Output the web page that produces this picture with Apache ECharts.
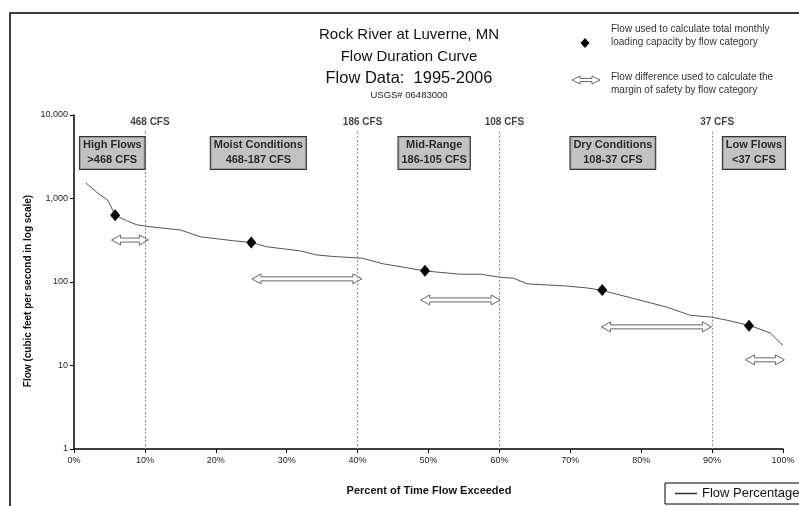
<!DOCTYPE html>
<html>
<head>
<meta charset="utf-8">
<script src="https://cdn.jsdelivr.net/npm/echarts@6/dist/echarts.min.js"></script>
<style>
html,body{margin:0;padding:0;background:#fff;}
#chart{width:799px;height:506px;}
</style>
</head>
<body>
<div id="chart"></div>
<script>
// ---- data ----
const percentExceeded = [1.7, 3.2, 4.8, 5.8, 7.4, 8.8, 10.2, 15, 17.8, 22.5, 25, 27.2, 31.9, 34.2, 36.6, 40.6, 43.6, 46, 49.4, 54.4, 57.3, 60.1, 62, 63.9, 69.5, 72.3, 74.3, 78.9, 83.6, 86.9, 89.9, 92, 95.4, 98.2, 100];
const flowCfs = [1530, 1190, 946, 630, 543, 486, 464, 420, 348, 312, 297, 264, 236, 211, 202, 193, 165, 153, 136, 124, 124, 114, 111, 95, 89.5, 85, 80, 63.5, 50, 40, 38, 35, 30, 24.5, 17.4];

const loadPercent = [5.8, 25, 49.5, 74.5, 95.2];
const loadFlow = [630, 297, 136, 80, 30];

const marginStart = [5.3, 25.1, 48.9, 74.4, 94.7];
const marginEnd = [10.5, 40.6, 60.1, 89.9, 100.2];
const marginFlow = [318, 109, 61, 29, 11.7];

const boundaryPercent = [10, 40, 60, 90];
const boundaryLabels = ['468 CFS', '186 CFS', '108 CFS', '37 CFS'];

const categoryNames = ['High Flows', 'Moist Conditions', 'Mid-Range', 'Dry Conditions', 'Low Flows'];
const categoryRanges = ['>468 CFS', '468-187 CFS', '186-105 CFS', '108-37 CFS', '<37 CFS'];
const categoryCenter = [5.4, 26.0, 50.8, 76.0, 95.9];

const xTicks = [0, 10, 20, 30, 40, 50, 60, 70, 80, 90, 100];
const yTicks = [1, 10, 100, 1000, 10000];

const titleLines = ['Rock River at Luverne, MN', 'Flow Duration Curve', 'Flow Data:  1995-2006', 'USGS# 06483000'];
const legendNotes = ['Flow used to calculate total monthly', 'loading capacity by flow category', 'Flow difference used to calculate the', 'margin of safety by flow category'];

// ---- chart ----
const chart = echarts.init(document.getElementById('chart'), null, {renderer: 'canvas'});
const FONT = 'Liberation Sans, Arial, sans-serif';
const BOX_Y = 3510;      // vertical placement of category boxes (value on log axis)
const LABEL_Y = 8300;    // vertical placement of boundary labels
const LINE_TOP = 6300;   // where the dotted boundary lines start

function arrowShape(x1, x2, y, headLen, headHalf, shaftHalf) {
  return [
    [x1, y], [x1 + headLen, y - headHalf], [x1 + headLen, y - shaftHalf],
    [x2 - headLen, y - shaftHalf], [x2 - headLen, y - headHalf], [x2, y],
    [x2 - headLen, y + headHalf], [x2 - headLen, y + shaftHalf],
    [x1 + headLen, y + shaftHalf], [x1 + headLen, y + headHalf]
  ];
}

const option = {
  backgroundColor: '#fff',
  animation: false,
  textStyle: {fontFamily: FONT},
  grid: {left: 74, right: 16, top: 115, bottom: 57, containLabel: false},
  xAxis: {
    type: 'value', min: 0, max: 100, interval: 10,
    axisLine: {show: true, lineStyle: {color: '#000', width: 1.5}},
    axisTick: {show: true, length: 4, lineStyle: {color: '#000'}},
    axisLabel: {formatter: v => xTicks.includes(v) ? v + '%' : '', fontSize: 9, color: '#222', margin: 7, fontFamily: FONT},
    splitLine: {show: false}
  },
  yAxis: {
    type: 'log', logBase: 10, min: yTicks[0], max: yTicks[yTicks.length - 1],
    axisLine: {show: true, lineStyle: {color: '#000', width: 1.5}},
    axisTick: {show: true, length: 4, lineStyle: {color: '#000'}},
    axisLabel: {formatter: v => Number(v).toLocaleString('en-US'), fontSize: 9, color: '#222', margin: 6, fontFamily: FONT},
    splitLine: {show: false}
  },
  legend: {
    left: 665, top: 483, orient: 'horizontal',
    data: [{name: 'Flow Percentage', icon: 'rect', itemStyle: {color: '#333'}}],
    borderColor: '#000', borderWidth: 1, padding: [4, 4, 4, 10],
    itemWidth: 22, itemHeight: 1.5, itemGap: 4,
    textStyle: {fontSize: 13, color: '#111', fontFamily: FONT}
  },
  series: [
    {
      name: 'Flow Percentage', type: 'line', symbol: 'none', z: 3,
      data: percentExceeded.map((p, i) => [p, flowCfs[i]]),
      lineStyle: {color: '#555', width: 1},
      itemStyle: {color: '#555'},
      markLine: {
        silent: true, symbol: 'none',
        lineStyle: {color: '#888', type: [2, 2], width: 1},
        label: {show: false},
        data: boundaryPercent.map(b => [{coord: [b, LINE_TOP]}, {coord: [b, yTicks[0]]}])
      }
    },
    {
      name: 'Load Flow', type: 'scatter', symbol: 'diamond', symbolSize: [10, 12], z: 5,
      itemStyle: {color: '#000', opacity: 1},
      data: loadPercent.map((p, i) => [p, loadFlow[i]])
    },
    {
      name: 'Margin', type: 'custom', z: 4,
      encode: {x: [0, 1], y: 2},
      data: marginStart.map((s, i) => [s, marginEnd[i], marginFlow[i]]),
      renderItem: function (params, api) {
        const p1 = api.coord([api.value(0), api.value(2)]);
        const p2 = api.coord([api.value(1), api.value(2)]);
        return {
          type: 'polygon',
          shape: {points: arrowShape(p1[0], p2[0], p1[1], 9, 5, 2)},
          style: {fill: '#fff', stroke: '#666', lineWidth: 1}
        };
      }
    },
    {
      name: 'Boundary Labels', type: 'scatter', symbolSize: 0, z: 6, silent: true,
      data: boundaryPercent.map((b, i) => ({value: [b, LABEL_Y], name: boundaryLabels[i]})),
      label: {show: true, position: 'inside', offset: [5, 0], formatter: p => p.name,
        fontSize: 10, fontWeight: 'bold', color: '#111', fontFamily: FONT}
    },
    {
      name: 'Categories', type: 'scatter', symbolSize: 0, z: 7, silent: true,
      data: categoryCenter.map((c, i) => ({value: [c, BOX_Y], name: categoryNames[i] + '\n' + categoryRanges[i]})),
      label: {show: true, position: 'inside', formatter: p => p.name,
        fontSize: 11, fontWeight: 'bold', color: '#000', lineHeight: 15, align: 'center',
        backgroundColor: '#b3b3b3', borderColor: '#000', borderWidth: 1, padding: [1, 3, 1, 3],
        fontFamily: FONT}
    }
  ],
  graphic: [
    // outer frame
    {type: 'polyline', shape: {points: [[10, 506], [10, 13], [799, 13]]}, style: {stroke: '#000', lineWidth: 1.5, fill: null}},
    // titles
    {type: 'text', x: 409, y: 35, style: {text: titleLines[0], font: '15px ' + FONT, fill: '#111', align: 'center', verticalAlign: 'middle'}},
    {type: 'text', x: 409, y: 57, style: {text: titleLines[1], font: '15px ' + FONT, fill: '#111', align: 'center', verticalAlign: 'middle'}},
    {type: 'text', x: 409, y: 78, style: {text: titleLines[2], font: '16.5px ' + FONT, fill: '#111', align: 'center', verticalAlign: 'middle'}},
    {type: 'text', x: 409, y: 95, style: {text: titleLines[3], font: '9.5px ' + FONT, fill: '#222', align: 'center', verticalAlign: 'middle'}},
    // notes legend (top right)
    {type: 'polygon', shape: {points: [[585, 38], [589.5, 43], [585, 48], [580.5, 43]]}, style: {fill: '#000'}},
    {type: 'polygon', shape: {points: arrowShape(572, 600, 80, 8, 4, 1.6)}, style: {fill: '#fff', stroke: '#666', lineWidth: 1}},
    {type: 'text', x: 611, y: 29, style: {text: legendNotes[0], font: '10px ' + FONT, fill: '#333', verticalAlign: 'middle'}},
    {type: 'text', x: 611, y: 42, style: {text: legendNotes[1], font: '10px ' + FONT, fill: '#333', verticalAlign: 'middle'}},
    {type: 'text', x: 611, y: 77, style: {text: legendNotes[2], font: '10px ' + FONT, fill: '#333', verticalAlign: 'middle'}},
    {type: 'text', x: 611, y: 90, style: {text: legendNotes[3], font: '10px ' + FONT, fill: '#333', verticalAlign: 'middle'}},
    // axis titles
    {type: 'text', x: 28, y: 291, rotation: Math.PI / 2, style: {text: 'Flow (cubic feet per second in log scale)', font: 'bold 10px ' + FONT, fill: '#111', align: 'center', verticalAlign: 'middle'}},
    {type: 'text', x: 429, y: 491, style: {text: 'Percent of Time Flow Exceeded', font: 'bold 11px ' + FONT, fill: '#111', align: 'center', verticalAlign: 'middle'}}
  ]
};
chart.setOption(option);
</script>
</body>
</html>
